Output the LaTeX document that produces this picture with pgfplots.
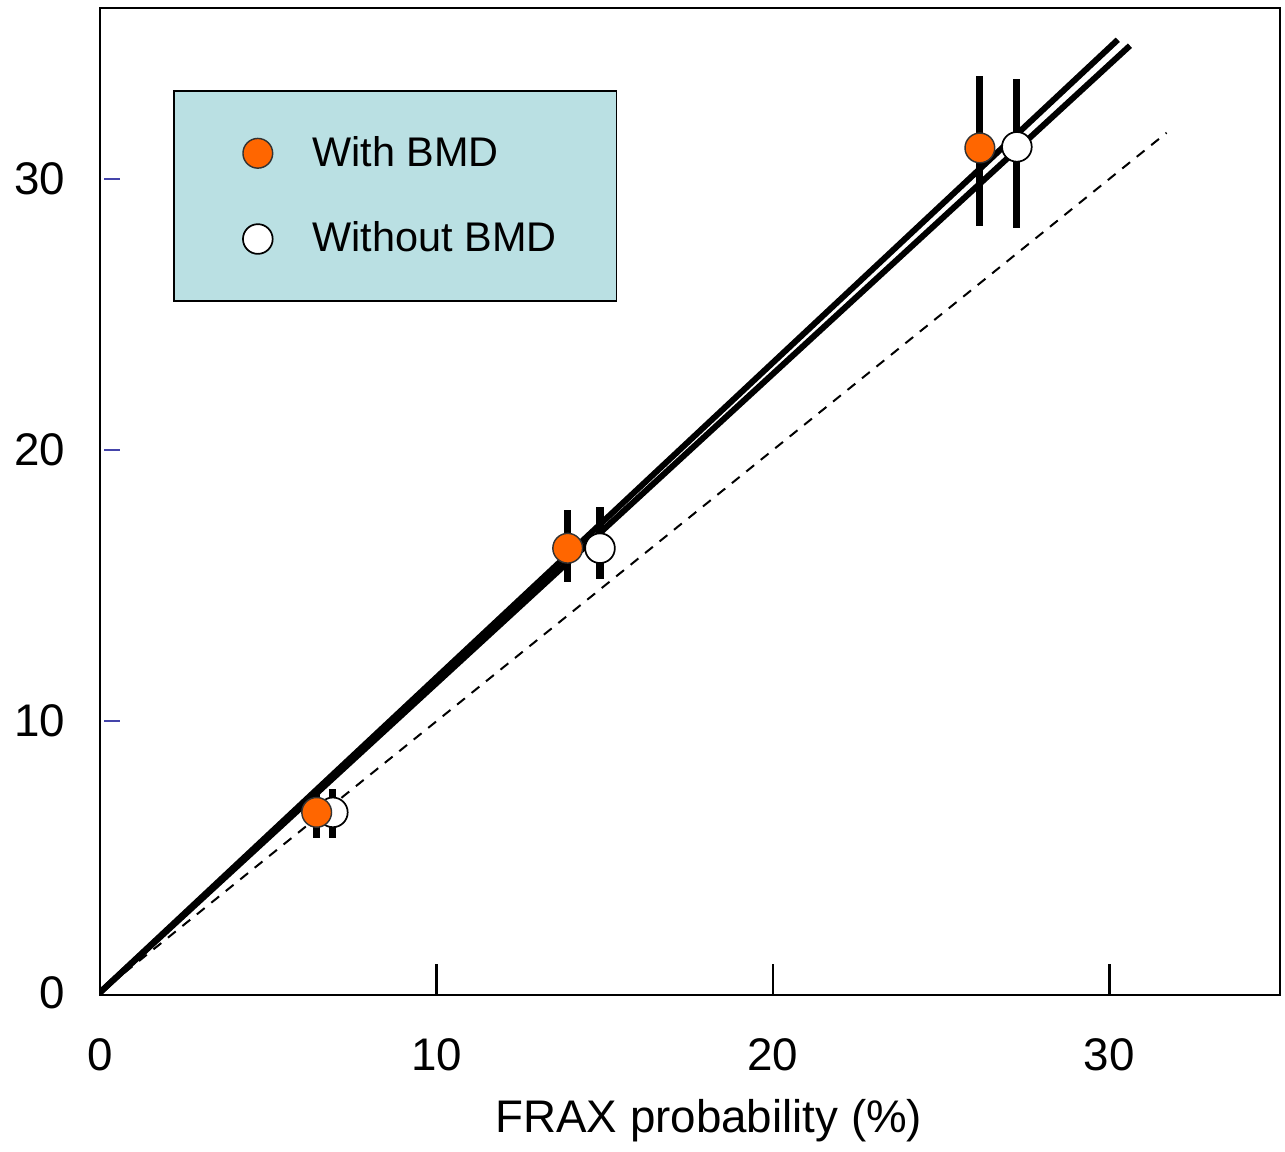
\documentclass[border=0pt]{standalone}
\usepackage{pgfplots}
\pgfplotsset{compat=1.18}
\usepackage{fontspec}
\setmainfont{Liberation Sans}
\definecolor{legfill}{HTML}{BAE0E3}
\definecolor{orng}{HTML}{FF6600}
\definecolor{tickblue}{HTML}{4444AA}
\begin{document}
\begin{tikzpicture}
\begin{axis}[
  scale only axis, width=413pt, height=345.5pt,
  xmin=0, xmax=35.07, ymin=-0.1, ymax=36.3,
  axis line style={line width=0.8pt},
  xtick={0,10,20,30}, ytick={0,10,20,30},
  xtick pos=left, ytick pos=left,
  tick align=inside,
  major tick length=11pt,
  xtick style={black, line width=0.8pt},
  ytick style={draw=none},
  /pgf/number format/assume math mode=true,
  ticklabel style={font=\fontsize{16}{19}\selectfont},
  xticklabel style={yshift=-11.7pt},
  yticklabel style={xshift=-8.7pt},
  xlabel={FRAX probability (\%)},
  xlabel style={font=\fontsize{16}{19}\selectfont, yshift=-3pt, xshift=6.6pt},
  legend cell align=left,
  reverse legend,
  legend image code/.code={%
    \path (-1.5pt,0) (0.6cm,0);
    \draw[mark repeat=2,mark phase=2,#1] plot coordinates {(0cm,0cm) (0.3cm,0cm) (0.6cm,0cm)};},
  legend style={at={(rel axis cs:0.062,0.9165)}, anchor=north west,
    fill=legfill, draw=black, line width=0.6pt,
    font=\fontsize{14.5}{17}\selectfont,
    inner xsep=19pt, inner ysep=13.7pt, row sep=14pt, column sep=8.3pt},
]
\addplot[line width=2.1pt, forget plot] coordinates {(0,0) (30.25,35.13)};
\addplot[line width=2.1pt, forget plot] coordinates {(0,0) (30.61,34.91)};
\addplot[line width=0.7pt, dash pattern=on 3.5pt off 3pt, forget plot] coordinates {(0.3,0.3) (31.7,31.7)};

\addplot[only marks, mark=*, mark size=5.2pt,
  mark options={fill=white, draw=black, line width=0.6pt},
  error bars/.cd, y dir=both, y explicit, error mark=none,
  error bar style={line width=2.5pt, black}]
  coordinates {
  (6.92,6.64) += (0,0.85) -= (0,0.96)
  (14.86,16.38) += (0,1.52) -= (0,1.14)
  (27.25,31.18) += (0,2.52) -= (0,2.99)
  };
\addlegendentry{Without BMD}
\addplot[only marks, mark=*, mark size=5.2pt,
  mark options={fill=orng, draw=black!80, line width=0.5pt},
  error bars/.cd, y dir=both, y explicit, error mark=none,
  error bar style={line width=2.5pt, black}]
  coordinates {
  (6.44,6.64) += (0,0.85) -= (0,0.96)
  (13.90,16.38) += (0,1.41) -= (0,1.24)
  (26.15,31.14) += (0,2.66) -= (0,2.87)
  };
\addlegendentry{With BMD}

\draw[tickblue, line width=0.8pt] ([xshift=1.5pt]axis cs:0,10) -- ([xshift=7pt]axis cs:0,10);
\draw[tickblue, line width=0.8pt] ([xshift=1.5pt]axis cs:0,20) -- ([xshift=7pt]axis cs:0,20);
\draw[tickblue, line width=0.8pt] ([xshift=1.5pt]axis cs:0,30) -- ([xshift=7pt]axis cs:0,30);
\end{axis}
\path ([xshift=-35pt,yshift=-51.8pt]current axis.south west) rectangle ([xshift=1.75pt,yshift=2.8pt]current axis.north east);
\end{tikzpicture}
\end{document}
